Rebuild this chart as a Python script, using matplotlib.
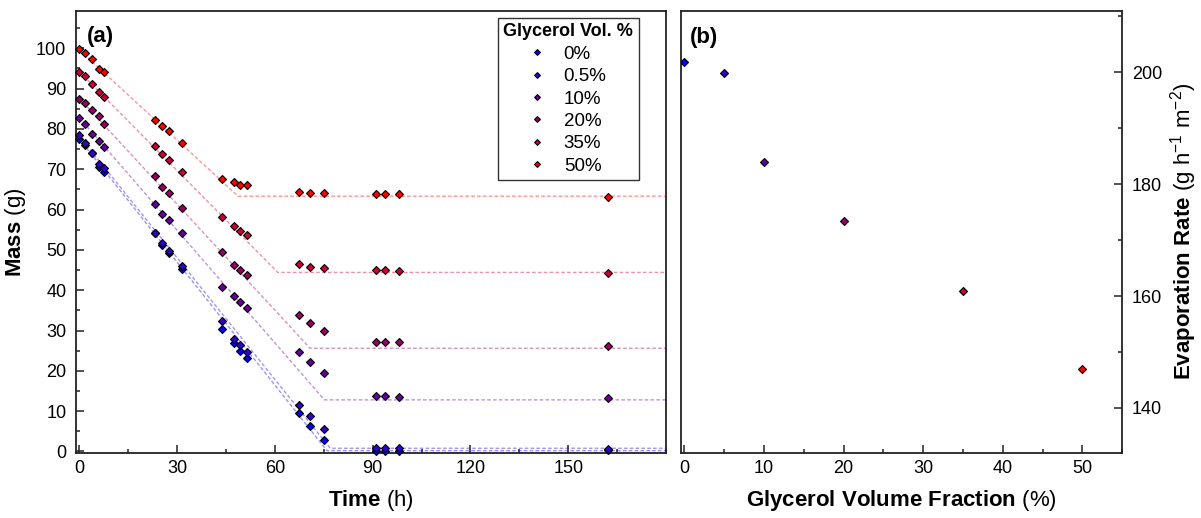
import matplotlib
matplotlib.use("Agg")
import matplotlib.pyplot as plt
from matplotlib.ticker import MultipleLocator
import numpy as np

plt.rcParams['font.family'] = ['Liberation Sans', 'DejaVu Sans']
plt.rcParams['mathtext.fontset'] = 'custom'
plt.rcParams['mathtext.rm'] = 'Liberation Sans'
plt.rcParams['mathtext.it'] = 'Liberation Sans:italic'
plt.rcParams['mathtext.bf'] = 'Liberation Sans:bold'

# ---------------- data ----------------
labels = ['0%', '0.5%', '10%', '20%', '35%', '50%']
colors = ['#0000ff', '#3300cc', '#660099', '#990066', '#cc0033', '#ff0000']

time_h = [0, 1.8, 3.9, 6.1, 7.7, 23.2, 25.5, 27.6, 31.6, 43.7, 47.4, 49.4,
          51.4, 67.3, 70.8, 75.2, 91.0, 93.7, 98.2, 162.2]

mass_0 = [77.5, 75.9, 74.0, 70.5, 69.3, 54.1, 51.3, 49.1, 45.2, 30.3, 26.8, 24.9,
          23.3, 9.5, 6.3, 2.8, 0.2, 0.2, 0.2, 0.3]
mass_05 = [78.4, 76.5, 74.1, 71.3, 70.3, 54.3, 51.7, 49.6, 46.0, 32.4, 28.0, 26.3,
           24.7, 11.6, 8.8, 5.5, 0.8, 0.8, 0.8, 0.7]
mass_10 = [82.6, 81.1, 78.7, 77.1, 75.6, 61.4, 58.8, 57.4, 54.3, 40.7, 38.6, 37.1,
           35.6, 24.6, 22.3, 19.5, 13.8, 13.8, 13.6, 13.3]
mass_20 = [87.5, 86.4, 84.6, 83.3, 81.1, 68.2, 65.6, 64.1, 60.3, 49.5, 46.3, 45.0,
           43.8, 33.9, 31.9, 29.9, 27.1, 27.1, 27.1, 26.1]
mass_35 = [94.1, 93.0, 91.2, 89.2, 87.8, 75.8, 73.8, 72.2, 69.2, 58.2, 55.9, 54.6,
           53.7, 46.5, 45.8, 45.4, 44.9, 44.9, 44.8, 44.3]
mass_50 = [99.7, 98.7, 97.2, 94.8, 94.1, 82.3, 80.7, 79.4, 76.6, 67.5, 66.8, 66.2,
           66.0, 64.3, 64.1, 64.1, 63.8, 63.8, 63.8, 63.0]
masses = [mass_0, mass_05, mass_10, mass_20, mass_35, mass_50]

# piecewise fit lines (start mass, break time, plateau mass)
fit_start = [77.5, 78.2, 82.8, 87.6, 94.2, 99.6]
fit_break = [76.0, 77.0, 75.2, 70.8, 60.9, 48.7]
fit_plateau = [0.2, 0.8, 12.8, 25.6, 44.4, 63.3]

glycerol_frac = [0, 5, 10, 20, 35, 50]
evap_rate = [201.9, 199.9, 183.9, 173.4, 160.9, 146.9]

# ---------------- figure ----------------
W, H = 1201, 518
fig = plt.figure(figsize=(W / 100, H / 100), dpi=100)

def px_axes(l, t, r, b):
    return fig.add_axes([l / W, 1 - b / H, (r - l) / W, (b - t) / H])

axA = px_axes(76, 10.7, 666, 452.7)
axB = px_axes(680.7, 10.7, 1122.3, 452.7)

T_END = 180
for i in range(6):
    lx = [0, fit_break[i], T_END]
    ly = [fit_start[i], fit_plateau[i], fit_plateau[i]]
    axA.plot(lx, ly, linestyle=(0, (2.6, 1.6)), color=colors[i], alpha=0.42,
             lw=1.0, zorder=2)
handles = []
for i in range(6):
    h, = axA.plot(time_h, masses[i], linestyle='none', marker='D', ms=3.7,
                  mfc=colors[i], mec='black', mew=0.8, zorder=3, clip_on=False,
                  label=labels[i])
    handles.append(h)

axA.set_xlim(-1, 180)
axA.set_ylim(-0.3, 109.3)
axA.xaxis.set_minor_locator(MultipleLocator(15))
axA.yaxis.set_minor_locator(MultipleLocator(5))
axA.set_xticks([0, 30, 60, 90, 120, 150])
axA.set_yticks(list(range(0, 101, 10)))
axA.set_xlabel(r'$\mathbf{Time}$ (h)', fontsize=16, labelpad=8)
axA.set_ylabel(r'$\mathbf{Mass}$ (g)', fontsize=16, labelpad=6)
axA.text(0.0186, 0.965, '(a)', transform=axA.transAxes, fontsize=16,
         fontweight='bold', va='top', ha='left')

leg = axA.legend(handles=handles, title='Glycerol Vol. %', loc='upper right',
                 bbox_to_anchor=(0.954, 0.984), borderaxespad=0, fontsize=13.5,
                 title_fontproperties={'weight': 'bold', 'size': 13},
                 frameon=True, fancybox=False, edgecolor='black',
                 markerscale=0.8, handlelength=0.7, handletextpad=1.1,
                 labelspacing=0.28, borderpad=0.3)
leg.get_frame().set_linewidth(1.0)

for i in range(6):
    axB.plot(glycerol_frac[i], evap_rate[i], linestyle='none', marker='D',
             ms=3.6, mfc=colors[i], mec='black', mew=0.8, zorder=3)
axB.set_xlim(-0.45, 55)
axB.set_ylim(132, 211)
axB.xaxis.set_minor_locator(MultipleLocator(5))
axB.yaxis.set_minor_locator(MultipleLocator(10))
axB.yaxis.tick_right()
axB.yaxis.set_label_position('right')
axB.set_xticks([0, 10, 20, 30, 40, 50])
axB.set_yticks([140, 160, 180, 200])
axB.set_xlabel(r'$\mathbf{Glycerol\ Volume\ Fraction}$ (%)', fontsize=16, labelpad=8)
axB.set_ylabel(r'$\mathbf{Evaporation\ Rate}$ (g h$^{-1}$ m$^{-2}$)', fontsize=16,
               labelpad=4)
axB.text(0.020, 0.963, '(b)', transform=axB.transAxes, fontsize=16,
         fontweight='bold', va='top', ha='left')

for ax in (axA, axB):
    for s in ax.spines.values():
        s.set_linewidth(1.3)
        s.set_color('#222222')
    ax.tick_params(which='both', direction='in', labelsize=13, color='#222222',
                   width=1.1)
    ax.tick_params(which='major', length=5.5)
    ax.tick_params(which='minor', length=3)
    ax.tick_params(axis='x', which='both', top=False, pad=5)
axA.tick_params(axis='y', which='both', right=False, pad=7)
axB.tick_params(axis='y', which='both', left=False, right=True, pad=7)

fig.savefig('out.png', dpi=100)
